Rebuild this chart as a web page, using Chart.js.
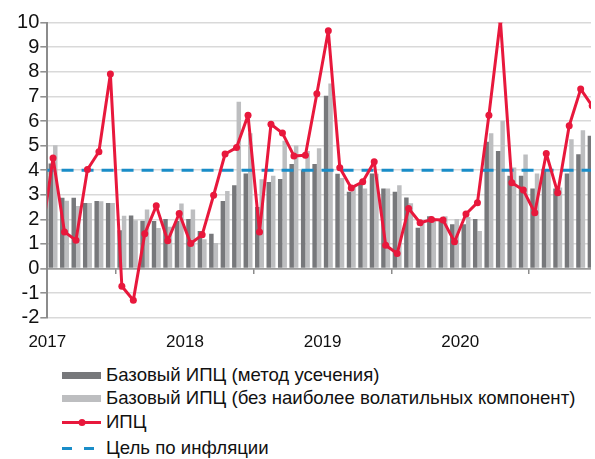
<!DOCTYPE html>
<html>
<head>
<meta charset="utf-8">
<script src="https://cdn.jsdelivr.net/npm/chart.js@4/dist/chart.umd.min.js"></script>
<style>
  html, body { margin: 0; padding: 0; background: #fff; }
  #wrap { position: relative; width: 595px; height: 459px; overflow: hidden; font-family: "Liberation Sans", Arial, sans-serif; }
  #c { position: absolute; left: 0; top: 0; }
  .row { position: absolute; left: 0; height: 24px; width: 595px; }
  .row svg { position: absolute; left: 62px; top: 0; }
  .row span { position: absolute; left: 106px; top: 0; line-height: 24px; font-size: 18.6px; color: #111; white-space: nowrap; }
</style>
</head>
<body>
<div id="wrap">
  <canvas id="c" width="595" height="360"></canvas>
  <div class="row" style="top:363px"><svg width="40" height="24"><rect x="0" y="9" width="39" height="7" fill="#77787b"/></svg><span id="l1"></span></div>
  <div class="row" style="top:386px"><svg width="40" height="24"><rect x="0" y="9" width="39" height="7" fill="#bdbec0"/></svg><span id="l2"></span></div>
  <div class="row" style="top:410px"><svg width="40" height="24"><line x1="0" y1="12.5" x2="39" y2="12.5" stroke="#e8183c" stroke-width="3"/><circle cx="20" cy="12.5" r="3.5" fill="#e8183c"/></svg><span id="l3"></span></div>
  <div class="row" style="top:436px"><svg width="40" height="24"><line x1="0" y1="12.5" x2="34" y2="12.5" stroke="#1a8dc8" stroke-width="3" stroke-dasharray="10,12"/></svg><span id="l4"></span></div>
</div>
<script>
// ---- data ----
const yearLabels = ['2017', '2018', '2019', '2020'];
const seriesNames = [
  'Базовый ИПЦ (метод усечения)',
  'Базовый ИПЦ (без наиболее волатильных компонент)',
  'ИПЦ',
  'Цель по инфляции'
];
// CPI, Dec 2016 .. Dec 2020
const cpi = [1.3,
  4.50, 1.49, 1.15, 4.03, 4.75, 7.91, -0.72, -1.29, 1.42, 2.55, 1.13, 2.24,
  1.02, 1.37, 2.98, 4.66, 4.92, 6.24, 1.49, 5.87, 5.51, 4.58, 4.61, 7.11,
  9.67, 4.10, 3.28, 3.53, 4.34, 0.95, 0.61, 2.44, 1.86, 1.99, 1.97, 1.09,
  2.22, 2.68, 6.24, 10.1, 3.49, 3.19, 2.27, 4.68, 3.08, 5.81, 7.30, 6.62];
// Core CPI (trimmed mean), Jan 2017 .. Dec 2020
const trimmed = [
  4.27, 2.88, 2.88, 2.67, 2.75, 2.67, 1.56, 2.16, 1.94, 1.93, 2.01, 1.93,
  2.01, 1.53, 1.42, 2.75, 3.39, 3.87, 2.50, 3.52, 3.64, 4.25, 4.00, 4.25,
  7.03, 3.86, 3.12, 3.45, 3.87, 3.26, 3.12, 2.89, 1.66, 2.13, 1.98, 1.80,
  1.80, 2.01, 5.16, 4.78, 3.77, 3.77, 3.26, 4.00, 3.26, 3.87, 4.65, 5.40];
// Core CPI (excluding most volatile components), Jan 2017 .. Dec 2020
const exVolatile = [
  5.02, 2.76, 2.54, 2.67, 2.74, 2.67, 2.15, 1.96, 2.40, 1.65, 1.70, 2.65,
  2.40, 1.19, 1.04, 3.15, 6.78, 5.50, 3.63, 3.77, 5.20, 5.00, 4.78, 4.89,
  7.53, 3.68, 3.33, 3.26, 3.86, 3.26, 3.39, 2.66, 1.88, 2.02, 2.13, 2.01,
  2.10, 1.53, 5.50, 6.01, 4.11, 4.64, 3.87, 3.95, 3.30, 5.26, 5.63, 5.70];
const inflationTarget = 4;

// ---- build ----
const monthX = i => i + 0.5;               // Jan 2017 = 0
const barPts = arr => arr.map((v, i) => ({ x: monthX(i), y: v }));
const cpiPts = cpi.map((v, i) => ({ x: monthX(i - 1), y: v }));
const targetPts = cpi.map((v, i) => ({ x: monthX(i - 1), y: inflationTarget }));
const yearTicks = yearLabels.map((_, i) => i * 12);

['l1','l2','l3','l4'].forEach((id, i) => document.getElementById(id).textContent = seriesNames[i]);

const FONT = "'Liberation Sans', Arial, sans-serif";
const setTicks = s => { s.ticks = yearTicks.map(v => ({ value: v })); };

new Chart(document.getElementById('c'), {
  type: 'bar',
  data: {
    datasets: [
      { type: 'line', label: seriesNames[2], data: cpiPts, borderColor: '#e8183c', backgroundColor: '#e8183c',
        borderWidth: 3, borderJoinStyle: 'round', borderCapStyle: 'round',
        pointRadius: 3.5, pointBorderWidth: 0, pointBackgroundColor: '#e8183c', tension: 0, order: 0, xAxisID: 'x' },
      { type: 'line', label: seriesNames[3], data: targetPts, borderColor: '#1a8dc8', borderWidth: 3,
        borderDash: [12, 8], pointRadius: 0, tension: 0, order: 1, xAxisID: 'x' },
      { label: seriesNames[0], data: barPts(trimmed), backgroundColor: '#77787b', order: 2, xAxisID: 'x',
        categoryPercentage: 0.78, barPercentage: 1.0 },
      { label: seriesNames[1], data: barPts(exVolatile), backgroundColor: '#bdbec0', order: 3, xAxisID: 'x',
        categoryPercentage: 0.78, barPercentage: 1.0 }
    ]
  },
  options: {
    responsive: false,
    animation: false,
    devicePixelRatio: 1,
    layout: { padding: { top: 22.7, right: 0, left: 0, bottom: 0 } },
    plugins: { legend: { display: false }, tooltip: { enabled: false } },
    scales: {
      x: {
        type: 'linear', position: 'bottom', min: 0, max: 47.4, offset: false,
        afterBuildTicks: setTicks,
        afterFit: s => { s.height = 360 - 317.7; },
        grid: { display: false },
        border: { display: false },
        ticks: { padding: 6, color: '#111', font: { family: FONT, size: 17 }, maxRotation: 0, autoSkip: false,
          callback: v => yearLabels[Math.round(v / 12)] }
      },
      x2: {
        type: 'linear', position: { y: 0 }, min: 0, max: 47.4, offset: false,
        afterBuildTicks: setTicks,
        grid: { display: true, drawOnChartArea: false, drawTicks: true, tickLength: 5, tickColor: '#8c8c8c', lineWidth: 1.5 },
        border: { display: false },
        ticks: { display: false }
      },
      y: {
        type: 'linear', position: 'left', min: -2, max: 10,
        afterFit: s => { s.width = 47.3; },
        grid: {
          color: c => (c.tick && c.tick.value === 0) ? '#9b9b9b' : '#d9d9d9',
          lineWidth: c => (c.tick && c.tick.value === 0) ? 1.8 : 1.6,
          tickLength: 7, tickColor: '#8c8c8c', tickWidth: 1.5
        },
        border: { display: true, color: '#8c8c8c', width: 2 },
        ticks: { stepSize: 1, autoSkip: false, padding: 1, color: '#111', font: { family: FONT, size: 20 } }
      }
    }
  }
});
</script>
</body>
</html>
